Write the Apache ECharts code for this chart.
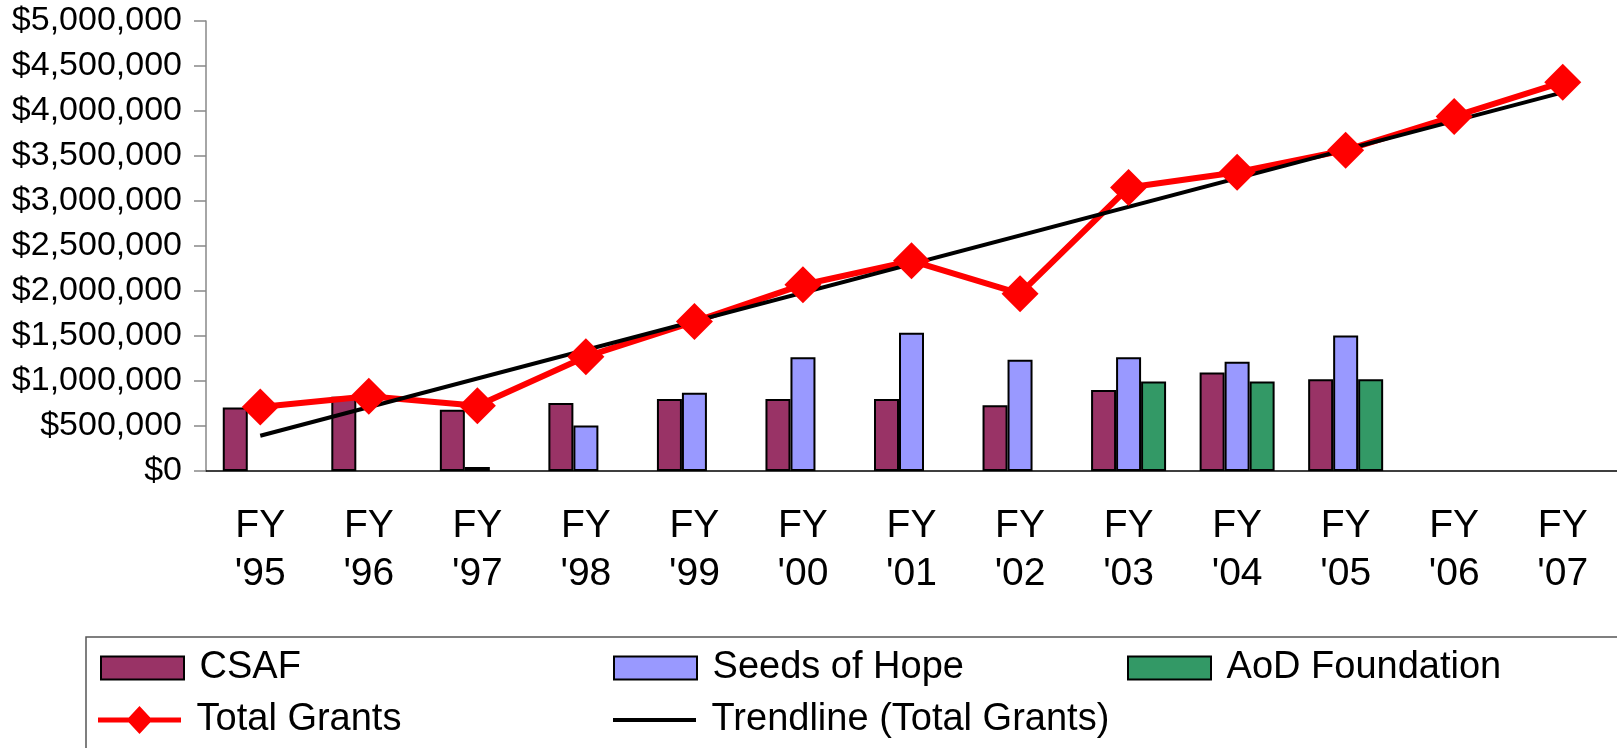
<!DOCTYPE html>
<html>
<head>
<meta charset="utf-8">
<script src="https://cdn.jsdelivr.net/npm/echarts@6/dist/echarts.min.js"></script>
<style>
  html, body { margin: 0; padding: 0; background: #fff; }
  #chartContainer { width: 1617px; height: 748px; }
</style>
</head>
<body>
<div id="chartContainer"></div>
<script>
// data
var categories = ["FY\n'95", "FY\n'96", "FY\n'97", "FY\n'98", "FY\n'99", "FY\n'00", "FY\n'01",
                  "FY\n'02", "FY\n'03", "FY\n'04", "FY\n'05", "FY\n'06", "FY\n'07"];
var csaf = [705000, 825000, 680000, 755000, 800000, 800000, 800000, 730000, 900000, 1095000, 1020000, null, null];
var seedsOfHope = [null, null, 45000, 505000, 870000, 1265000, 1535000, 1235000, 1265000, 1215000, 1505000, null, null];
var aodFoundation = [null, null, null, null, null, null, null, null, 995000, 995000, 1020000, null, null];
var totalGrants = [710000, 830000, 725000, 1270000, 1660000, 2070000, 2335000, 1970000, 3150000, 3320000, 3565000, 3940000, 4320000];
// trendline ends as drawn in the picture
var trendStart = 392000;
var trendEnd = 4207000;

var trend = categories.map(function (c, i) {
    if (i === 0) return trendStart;
    if (i === categories.length - 1) return trendEnd;
    return null;
});

function money(v) {
    return '$' + String(v).replace(/\B(?=(\d{3})+(?!\d))/g, ',');
}

var font = 'Liberation Sans, Arial, sans-serif';
// line with a diamond in the middle, for the legend
var lineDiamond = 'path://M0,11.5 L30.8,11.5 L41.5,0 L52.2,11.5 L83,11.5 L83,16.5 L52.2,16.5 L41.5,28 L30.8,16.5 L0,16.5 Z';

function legendAt(name, left, top, icon, h) {
    return {
        data: [name],
        left: left,
        top: top,
        padding: 0,
        icon: icon,
        itemWidth: 83,
        itemHeight: h,
        selectedMode: false,
        formatter: ' {name}',
        textStyle: {fontFamily: font, fontSize: 38, color: '#000', lineHeight: 46}
    };
}

var chart = echarts.init(document.getElementById('chartContainer'));
var barBorder = {borderColor: '#000', borderWidth: 2};
var option = {
    animation: false,
    backgroundColor: '#fff',
    grid: {left: 206, top: 21, bottom: 277, right: -5, containLabel: false},
    legend: [
        legendAt('CSAF', 100, 645, 'rect', 23),
        legendAt('Seeds of Hope', 613, 645, 'rect', 23),
        legendAt('AoD Foundation', 1127, 645, 'rect', 23),
        legendAt('Total Grants', 98, 697, lineDiamond, 28),
        legendAt('Trendline (Total Grants)', 613, 697, 'rect', 4)
    ],
    graphic: [{
        type: 'rect',
        shape: {x: 86, y: 637, width: 1600, height: 200},
        style: {fill: null, stroke: '#555', lineWidth: 1.5},
        silent: true
    }],
    xAxis: {
        type: 'category',
        data: categories,
        axisLine: {lineStyle: {color: '#000', width: 1.5}},
        axisTick: {interval: 0, length: 9, lineStyle: {color: '#777', width: 1.5}},
        axisLabel: {
            interval: 0, margin: 31, fontFamily: font, fontSize: 39,
            lineHeight: 48, color: '#000'
        },
        splitLine: {show: false}
    },
    yAxis: {
        type: 'value',
        min: 0,
        max: 5000000,
        interval: 500000,
        axisLine: {show: true, lineStyle: {color: '#888', width: 1.5}},
        axisTick: {show: true, length: 12, lineStyle: {color: '#888', width: 1.5}},
        axisLabel: {
            margin: 24, fontFamily: font, fontSize: 34, color: '#000',
            formatter: money
        },
        splitLine: {show: false}
    },
    series: [
        {
            name: 'CSAF', type: 'bar', data: csaf,
            barWidth: 25, barGap: '0%',
            itemStyle: Object.assign({color: '#993366'}, barBorder)
        },
        {
            name: 'Seeds of Hope', type: 'bar', data: seedsOfHope,
            barWidth: 25, barGap: '0%',
            itemStyle: Object.assign({color: '#9999FF'}, barBorder)
        },
        {
            name: 'AoD Foundation', type: 'bar', data: aodFoundation,
            barWidth: 25, barGap: '0%',
            itemStyle: Object.assign({color: '#339966'}, barBorder)
        },
        {
            name: 'Total Grants', type: 'line', data: totalGrants,
            symbol: 'diamond', symbolSize: 37,
            lineStyle: {color: '#FF0000', width: 6},
            itemStyle: {color: '#FF0000'}
        },
        {
            name: 'Trendline (Total Grants)', type: 'line', data: trend,
            connectNulls: true, symbol: 'none',
            lineStyle: {color: '#000', width: 4},
            itemStyle: {color: '#000'}
        }
    ]
};
chart.setOption(option);
</script>
</body>
</html>
